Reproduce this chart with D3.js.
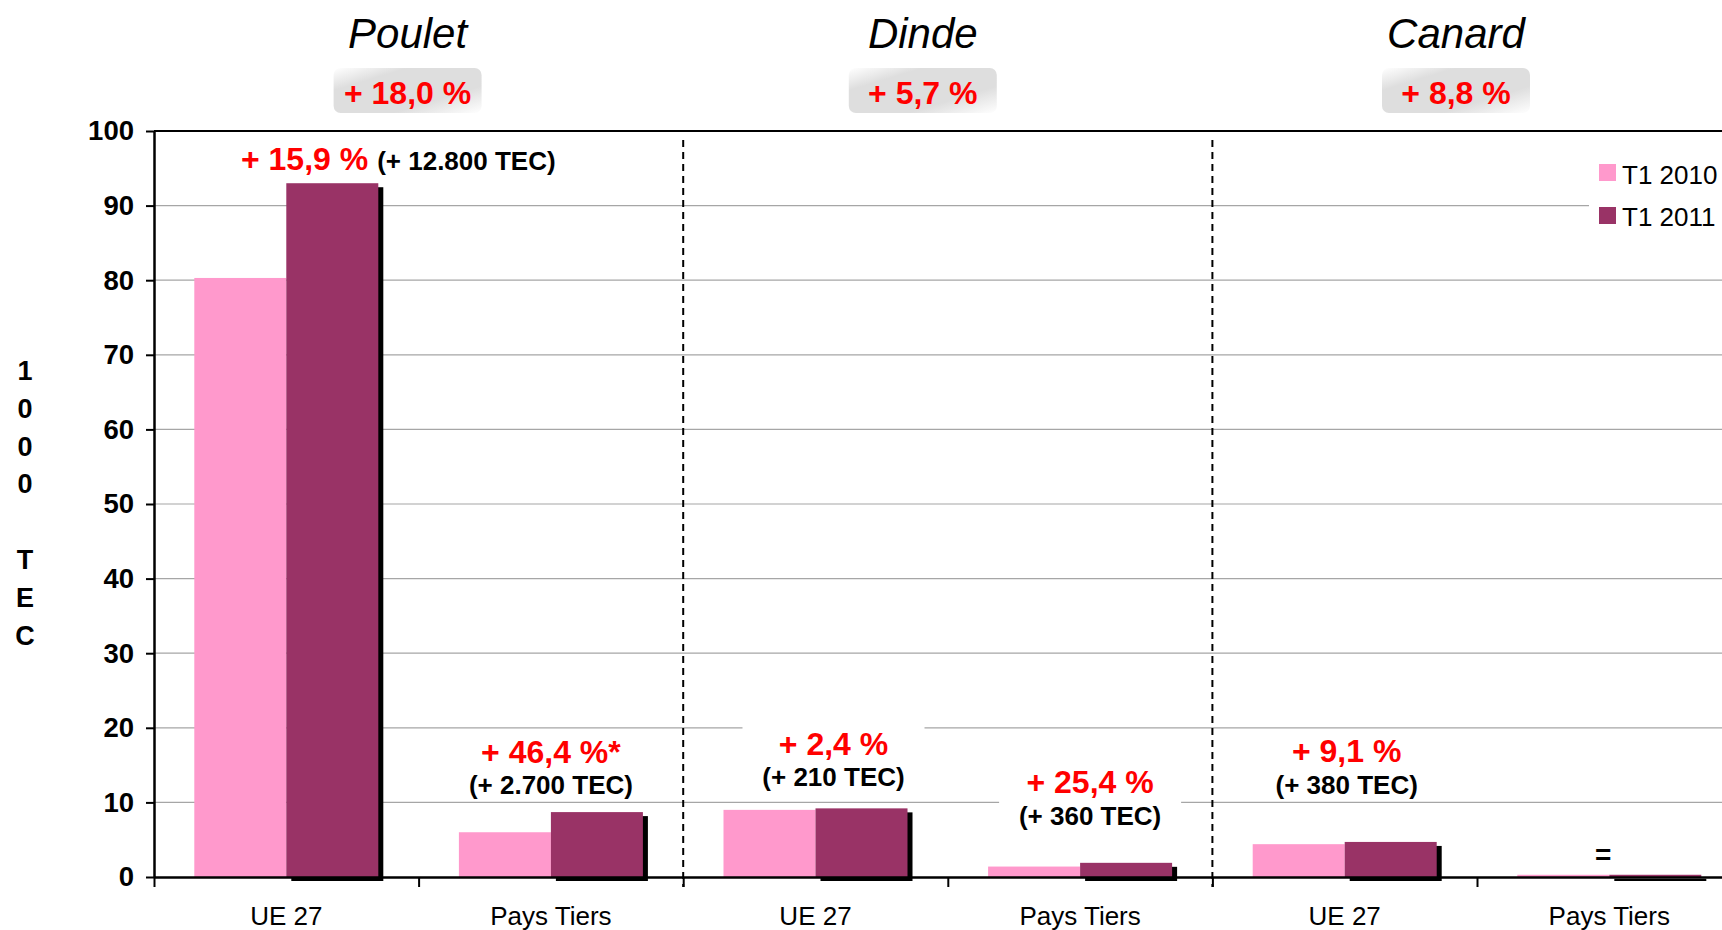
<!DOCTYPE html>
<html><head><meta charset="utf-8">
<script src="https://cdn.jsdelivr.net/npm/d3@7/dist/d3.min.js"></script>
<style>
body{margin:0;background:#fff;overflow:hidden}
text{font-family:"Liberation Sans",Arial,sans-serif}
</style>
</head><body>
<svg id="chart" width="1722" height="930"></svg>
<script>
// ---------- data ----------
const categories = ["UE 27","Pays Tiers","UE 27","Pays Tiers","UE 27","Pays Tiers"];
const groups = ["Poulet","Dinde","Canard"];
const groupChange = ["+ 18,0 %","+ 5,7 %","+ 8,8 %"];
const series = ["T1 2010","T1 2011"];
const t1_2010 = [80.3, 6.0, 9.0, 1.4, 4.4, 0.3];
const t1_2011 = [93.0, 8.7, 9.2, 1.9, 4.7, 0.3];
const pctLabels = ["+ 15,9 %","+ 46,4 %*","+ 2,4 %","+ 25,4 %","+ 9,1 %","="];
const tecLabels = ["(+ 12.800 TEC)","(+ 2.700 TEC)","(+ 210 TEC)","(+ 360 TEC)","(+ 380 TEC)",""];
const yTicks = [0,10,20,30,40,50,60,70,80,90,100];
const yTitle = ["1","0","0","0","","T","E","C"];

// ---------- layout ----------
const colors = ["#FF99CC","#993366"];
const svg = d3.select("#chart");
const pLeft = 154, pTop = 131, pBottom = 877, catW = 264.6;
const x0 = d3.scaleBand().domain(d3.range(categories.length)).range([pLeft, pLeft + catW*categories.length]).padding(0);
const xb = d3.scaleLinear().domain([0, categories.length]).range([pLeft, pLeft + catW*categories.length]);
const x1 = d3.scaleBand().domain(series).range([0, x0.bandwidth()]).paddingInner(0).paddingOuter(0.438);
const y = d3.scaleLinear().domain([0,100]).range([pBottom, pTop]);
const cx = i => x0(i) + x0.bandwidth()/2;

svg.append("rect").attr("width",1722).attr("height",930).attr("fill","#fff");

// gridlines
svg.append("g").selectAll("line").data(yTicks.filter(t => t>0 && t<100)).join("line")
  .attr("x1", pLeft).attr("x2", 1722).attr("y1", d=>y(d)).attr("y2", d=>y(d))
  .attr("stroke","#a6a6a6").attr("stroke-width",1.2);

// white boxes behind some labels (cover gridlines)
const boxes = [{i:2, dx:18, w:182, v0:21.2, v1:10.5},{i:3, dx:10, w:182, v0:14.3, v1:5.6}];
svg.append("g").selectAll("rect").data(boxes).join("rect")
  .attr("x", d=>cx(d.i)+d.dx-d.w/2).attr("width", d=>d.w)
  .attr("y", d=>y(d.v0)).attr("height", d=>y(d.v1)-y(d.v0)).attr("fill","#fff");

// legend background
svg.append("rect").attr("x",1589).attr("y",150).attr("width",140).attr("height",90).attr("fill","#fff");

// group separators
svg.append("g").selectAll("line").data([2,4]).join("line")
  .attr("x1", d=>xb(d)).attr("x2", d=>xb(d)).attr("y1", pTop+9).attr("y2", pBottom+10)
  .attr("stroke","#000").attr("stroke-width",2).attr("stroke-dasharray","7,5");

// bars
const rows = categories.map((c,i)=>({i, vals:[t1_2010[i], t1_2011[i]]}));
const gBars = svg.append("g");
// shadow for T1 2011 bars
gBars.selectAll("rect.sh").data(rows).join("rect").attr("class","sh")
  .attr("x", d=>x0(d.i)+x1(series[1])+5).attr("y", d=>y(d.vals[1])+4)
  .attr("width", x1.bandwidth()).attr("height", d=>pBottom - y(d.vals[1]))
  .attr("fill","#000");
series.forEach((s,k)=>{
  gBars.selectAll("rect.s"+k).data(rows).join("rect").attr("class","s"+k)
    .attr("x", d=>x0(d.i)+x1(s)).attr("y", d=>y(d.vals[k]))
    .attr("width", x1.bandwidth()).attr("height", d=>pBottom - y(d.vals[k]))
    .attr("fill", colors[k]);
});

// top border
svg.append("line").attr("x1",pLeft).attr("x2",1722).attr("y1",y(100)).attr("y2",y(100))
  .attr("stroke","#000").attr("stroke-width",2);

// y axis
const yAxis = svg.append("g").attr("transform",`translate(${pLeft},0)`)
  .call(d3.axisLeft(y).tickValues(yTicks).tickSize(8).tickSizeOuter(0).tickPadding(12));
yAxis.select(".domain").attr("stroke","#000").attr("stroke-width",2.5);
yAxis.selectAll(".tick line").attr("stroke","#000").attr("stroke-width",2);
yAxis.selectAll(".tick text").attr("font-size",27.5).attr("font-weight","bold")
  .attr("font-family","'Liberation Sans',Arial,sans-serif").attr("fill","#000");

// x axis (boundary ticks)
const xAxis = svg.append("g").attr("transform",`translate(0,${pBottom})`)
  .call(d3.axisBottom(xb).tickValues(d3.range(categories.length+1)).tickSize(10).tickSizeOuter(0).tickFormat(""));
xAxis.select(".domain").attr("stroke","#000").attr("stroke-width",2.5);
xAxis.selectAll(".tick line").attr("stroke","#000").attr("stroke-width",2);

// category labels
svg.append("g").selectAll("text").data(categories).join("text")
  .attr("x",(d,i)=>cx(i)).attr("y",925).attr("text-anchor","middle")
  .attr("font-size",26).attr("fill","#000").text(d=>d);

// y title
svg.append("g").selectAll("text").data(yTitle).join("text")
  .attr("x",25).attr("y",(d,i)=>380 + i*37.8).attr("text-anchor","middle")
  .attr("font-size",27).attr("font-weight","bold").text(d=>d);

// annotations
const ann = [
  {dx:0, pv:null, tv:null},
  {dx:0, pv:15.3, tv:11.1},
  {dx:18, pv:16.4, tv:12.2},
  {dx:10, pv:11.3, tv:7.0},
  {dx:2, pv:15.4, tv:11.1},
  {dx:-6, pv:1.8, tv:null}
];
const t0 = svg.append("text").attr("x", cx(0)+112).attr("y",170).attr("text-anchor","middle").attr("font-weight","bold");
t0.append("tspan").attr("fill","#FF0000").attr("font-size",32).text(pctLabels[0]);
t0.append("tspan").attr("fill","#000").attr("font-size",26).attr("dx",9).text(tecLabels[0]);
ann.forEach((a,i)=>{
  if(i===0) return;
  svg.append("text").attr("x",cx(i)+a.dx).attr("y",y(a.pv)).attr("text-anchor","middle")
    .attr("font-weight","bold").attr("font-size", i===5?28:32).attr("fill", i===5?"#000":"#FF0000").text(pctLabels[i]);
  if(tecLabels[i]) svg.append("text").attr("x",cx(i)+a.dx).attr("y",y(a.tv)).attr("text-anchor","middle")
    .attr("font-weight","bold").attr("font-size",26).attr("fill","#000").text(tecLabels[i]);
});

// group headers
const defs = svg.append("defs");
const grad = defs.append("linearGradient").attr("id","badge").attr("x1","0").attr("y1","0").attr("x2","1").attr("y2","1");
grad.append("stop").attr("offset","0%").attr("stop-color","#ffffff");
grad.append("stop").attr("offset","25%").attr("stop-color","#dedede");
grad.append("stop").attr("offset","70%").attr("stop-color","#dedede");
grad.append("stop").attr("offset","100%").attr("stop-color","#ffffff");
const gdx = [-11,-25,-21];
groups.forEach((g,k)=>{
  const gc = (xb(2*k)+xb(2*k+2))/2 + gdx[k];
  svg.append("text").attr("x",gc).attr("y",48).attr("text-anchor","middle")
    .attr("font-family","'Comic Sans MS',Lato,sans-serif").attr("font-style","italic")
    .attr("font-size",42).attr("fill","#000").text(g);
  svg.append("rect").attr("x",gc-74).attr("y",68).attr("width",148).attr("height",45)
    .attr("rx",7).attr("fill","url(#badge)");
  svg.append("text").attr("x",gc).attr("y",104).attr("text-anchor","middle")
    .attr("font-weight","bold").attr("font-size",32).attr("fill","#FF0000").text(groupChange[k]);
});

// legend
const lg = svg.append("g");
series.forEach((s,k)=>{
  lg.append("rect").attr("x",1599).attr("y",164+k*43).attr("width",17).attr("height",17).attr("fill",colors[k]);
  lg.append("text").attr("x",1622).attr("y",184+k*42).attr("font-size",26).attr("fill","#000").text(s);
});
</script>
</body></html>
